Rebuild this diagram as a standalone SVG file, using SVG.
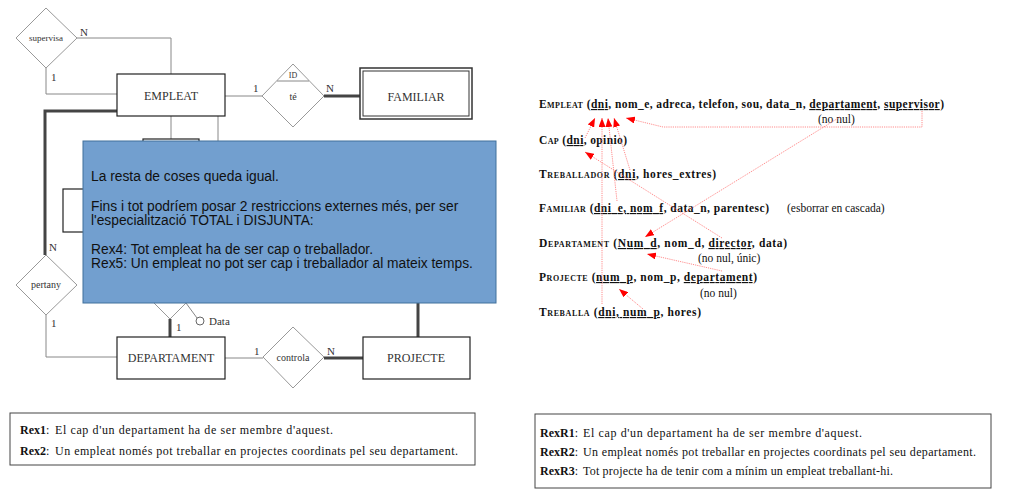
<svg xmlns="http://www.w3.org/2000/svg" width="1012" height="494" viewBox="0 0 1012 494">
<style>
.er{font-family:"Liberation Serif","Times New Roman",serif;fill:#333}
.ent{fill:#fff;stroke:#222;stroke-width:1.2}
.rel{fill:#fff;stroke:#999;stroke-width:1}
.ln{fill:none;stroke:#888;stroke-width:1}
.thk{fill:none;stroke:#444;stroke-width:3}
.rs{font-family:"Liberation Serif","Times New Roman",serif;font-size:11.5px;font-weight:bold;fill:#111}
.nt{font-family:"Liberation Serif","Times New Roman",serif;font-size:11.5px;fill:#111}
.sc{font-variant:small-caps}
.u{text-decoration:underline}
.fk{fill:none;stroke:#ff7070;stroke-width:0.8;stroke-dasharray:1.2,1}
.bx{fill:#fff;stroke:#444;stroke-width:1}
.rx{font-family:"Liberation Serif","Times New Roman",serif;font-size:12px;fill:#111}
.blue{font-family:"Liberation Sans",Arial,sans-serif;font-size:13.8px;fill:#111}
</style>
<defs>
<marker id="ah" markerUnits="userSpaceOnUse" markerWidth="9" markerHeight="7" refX="9" refY="3.5" orient="auto">
<path d="M0,0 L9,3.5 L0,7 z" fill="#ff0000"/>
</marker>
</defs>
<rect width="1012" height="494" fill="#fff"/>

<g id="connectors">
<polyline class="ln" points="77,38 171,38 171,74"/>
<polyline class="ln" points="46,68 46,94 117,94"/>
<polyline class="thk" points="117,111 45,111 45,255"/>
<polyline class="ln" points="46,315 46,357 117,357"/>
<line class="ln" x1="225" y1="96" x2="262" y2="96"/>
<line class="thk" x1="324" y1="96" x2="360" y2="96" stroke-width="2.5"/>
<line class="ln" x1="171" y1="116" x2="171" y2="141"/>
<line class="ln" x1="218" y1="116" x2="218" y2="141"/>
<line class="ln" x1="225" y1="358" x2="263" y2="358"/>
<line class="thk" x1="324" y1="358" x2="363" y2="358"/>
<line class="thk" x1="418" y1="300" x2="418" y2="337"/>
<line class="thk" x1="170" y1="319" x2="170" y2="337"/>
<line class="ln" x1="186" y1="303" x2="197" y2="318"/>
</g>

<g id="supervisa">
<polygon class="rel" points="16,38 46,8 77,38 46,68"/>
<text class="er" x="46" y="41" font-size="9" text-anchor="middle">supervisa</text>
<text class="er" x="80" y="36" font-size="11">N</text>
<text class="er" x="51" y="81" font-size="11">1</text>
</g>

<g id="empleat">
<rect class="ent" x="117" y="74" width="108" height="42"/>
<text class="er" x="171" y="100" font-size="12" text-anchor="middle">EMPLEAT</text>
</g>

<g id="te">
<polygon class="rel" points="262,96 293,64 324,96 293,127"/>
<line class="ln" x1="277" y1="81" x2="309" y2="81"/>
<text class="er" x="293" y="78" font-size="8" text-anchor="middle">ID</text>
<text class="er" x="293" y="100" font-size="10" text-anchor="middle">té</text>
<text class="er" x="253" y="92" font-size="11">1</text>
<text class="er" x="326" y="92" font-size="11">N</text>
</g>

<g id="familiar">
<rect x="360" y="68" width="112" height="51" fill="#fff" stroke="#333" stroke-width="1.5"/>
<rect x="363" y="71" width="106" height="45" fill="none" stroke="#333" stroke-width="1"/>
<text class="er" x="416" y="101" font-size="12" text-anchor="middle">FAMILIAR</text>
</g>

<g id="cap-hidden">
<rect class="ent" x="143" y="139" width="56" height="40"/>
</g>
<g id="treballador-hidden">
<rect class="ent" x="63" y="189" width="60" height="43"/>
</g>
<g id="dirigeix">
<polygon class="rel" points="140,289 170,259 200,289 170,319"/>
<circle cx="200" cy="321" r="4" fill="#fff" stroke="#666" stroke-width="1"/>
<text class="er" x="209" y="325" font-size="11">Data</text>
<text class="er" x="176" y="331" font-size="11">1</text>
</g>

<g id="pertany">
<polygon class="rel" points="16,285 46,255 77,285 46,315"/>
<text class="er" x="46" y="288" font-size="10" text-anchor="middle">pertany</text>
<text class="er" x="49" y="251" font-size="11">N</text>
<text class="er" x="51" y="327" font-size="11">1</text>
</g>

<g id="departament">
<rect class="ent" x="117" y="337" width="108" height="42"/>
<text class="er" x="171" y="362" font-size="12" text-anchor="middle">DEPARTAMENT</text>
</g>

<g id="controla">
<polygon class="rel" points="263,357 293,327 324,357 293,388"/>
<text class="er" x="293" y="361" font-size="10" text-anchor="middle">controla</text>
<text class="er" x="254" y="355" font-size="11">1</text>
<text class="er" x="327" y="355" font-size="11">N</text>
</g>

<g id="projecte">
<rect class="ent" x="363" y="337" width="107" height="42"/>
<text class="er" x="416" y="362" font-size="12" text-anchor="middle">PROJECTE</text>
</g>

<g id="nota">
<rect x="83" y="141" width="413" height="162" fill="#729fcf" stroke="#41719c" stroke-width="1"/>
<text class="blue" x="91" y="181">La resta de coses queda igual.</text>
<text class="blue" x="91" y="211">Fins i tot podríem posar 2 restriccions externes més, per ser</text>
<text class="blue" x="91" y="225">l'especialització TOTAL i DISJUNTA:</text>
<text class="blue" x="91" y="254">Rex4: Tot empleat ha de ser cap o treballador.</text>
<text class="blue" x="91" y="268">Rex5: Un empleat no pot ser cap i treballador al mateix temps.</text>
</g>

<g id="esquema">
<text class="rs" x="539" y="108" textLength="405" lengthAdjust="spacing"><tspan class="sc">Empleat</tspan> (<tspan class="u">dni</tspan>, nom_e, adreca, telefon, sou, data_n, <tspan class="u">departament</tspan>, <tspan class="u">supervisor</tspan>)</text>
<text class="nt" x="818" y="123">(no nul)</text>
<text class="rs" x="539" y="144" textLength="88" lengthAdjust="spacing"><tspan class="sc">Cap</tspan> (<tspan class="u">dni</tspan>, opinio)</text>
<text class="rs" x="539" y="178" textLength="177" lengthAdjust="spacing"><tspan class="sc">Treballador</tspan> (<tspan class="u">dni</tspan>, hores_extres)</text>
<text class="rs" x="539" y="212" textLength="230" lengthAdjust="spacing"><tspan class="sc">Familiar</tspan> (<tspan class="u">dni_e, nom_f</tspan>, data_n, parentesc)</text>
<text class="nt" x="787" y="212">(esborrar en cascada)</text>
<text class="rs" x="539" y="247" textLength="248" lengthAdjust="spacing"><tspan class="sc">Departament</tspan> (<tspan class="u">Num_d</tspan>, nom_d, <tspan class="u">director</tspan>, data)</text>
<text class="nt" x="698" y="262">(no nul, únic)</text>
<text class="rs" x="539" y="281" textLength="218" lengthAdjust="spacing"><tspan class="sc">Projecte</tspan> (<tspan class="u">num_p</tspan>, nom_p, <tspan class="u">departament</tspan>)</text>
<text class="nt" x="700" y="297">(no nul)</text>
<text class="rs" x="539" y="316" textLength="162" lengthAdjust="spacing"><tspan class="sc">Treballa</tspan> (<tspan class="u">dni, num_p</tspan>, hores)</text>
</g>

<g id="fk-arrows">
<line class="fk" x1="585" y1="138" x2="595" y2="118" marker-end="url(#ah)"/>
<line class="fk" x1="602" y1="304" x2="602" y2="118" marker-end="url(#ah)"/>
<line class="fk" x1="617" y1="201" x2="608" y2="118" marker-end="url(#ah)"/>
<line class="fk" x1="630" y1="170" x2="614" y2="118" marker-end="url(#ah)"/>
<polyline class="fk" points="922,111 922,127 663,127 626,118" marker-end="url(#ah)"/>
<line class="fk" x1="722" y1="238" x2="585" y2="152" marker-end="url(#ah)"/>
<line class="fk" x1="840" y1="117" x2="645" y2="237" marker-end="url(#ah)"/>
<line class="fk" x1="722" y1="271" x2="647" y2="254" marker-end="url(#ah)"/>
<line class="fk" x1="643" y1="309" x2="619" y2="289" marker-end="url(#ah)"/>
</g>

<g id="rex-er">
<rect class="bx" x="10" y="413" width="465" height="52"/>
<text class="rx" x="20" y="434"><tspan font-weight="bold">Rex1</tspan>:</text>
<text class="rx" x="55" y="434" textLength="278" lengthAdjust="spacing">El cap d'un departament ha de ser membre d'aquest.</text>
<text class="rx" x="20" y="455"><tspan font-weight="bold">Rex2</tspan>:</text>
<text class="rx" x="55" y="455" textLength="403" lengthAdjust="spacing">Un empleat només pot treballar en projectes coordinats pel seu departament.</text>
</g>

<g id="rex-rel">
<rect class="bx" x="535" y="414" width="456" height="74"/>
<text class="rx" x="540" y="437"><tspan font-weight="bold">RexR1</tspan>:</text>
<text class="rx" x="583" y="437" textLength="279" lengthAdjust="spacing">El cap d'un departament ha de ser membre d'aquest.</text>
<text class="rx" x="540" y="456"><tspan font-weight="bold">RexR2</tspan>:</text>
<text class="rx" x="583" y="456" textLength="393" lengthAdjust="spacing">Un empleat només pot treballar en projectes coordinats pel seu departament.</text>
<text class="rx" x="540" y="475"><tspan font-weight="bold">RexR3</tspan>:</text>
<text class="rx" x="583" y="475" textLength="310" lengthAdjust="spacing">Tot projecte ha de tenir com a mínim un empleat treballant-hi.</text>
</g>
</svg>
